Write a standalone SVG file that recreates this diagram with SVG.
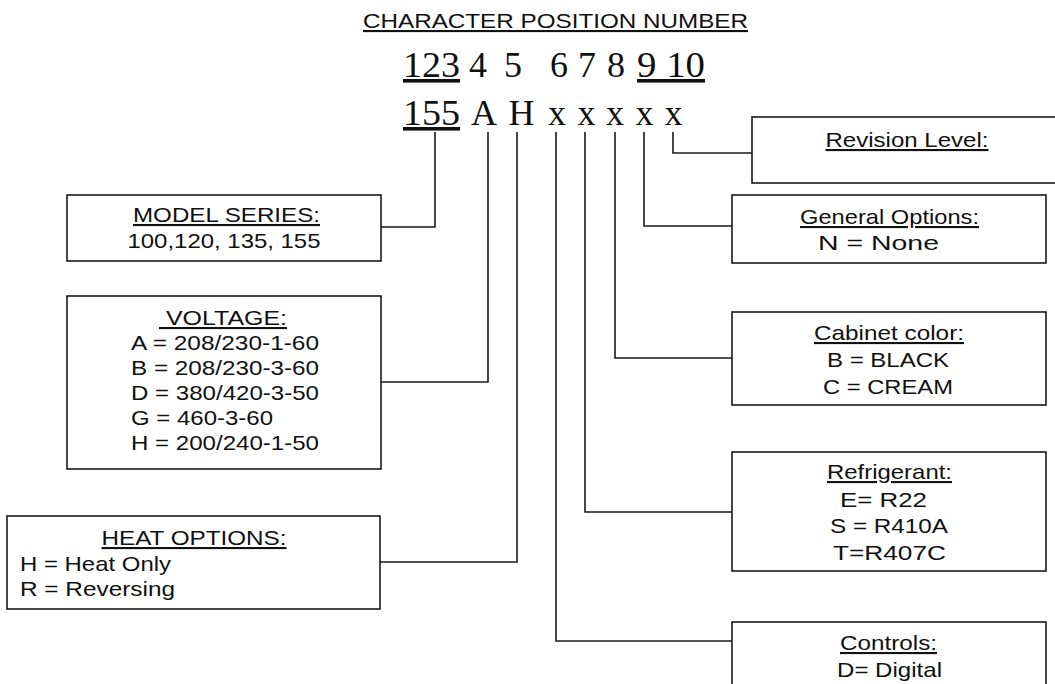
<svg xmlns="http://www.w3.org/2000/svg" width="1055" height="684" viewBox="0 0 1055 684">
<style>
.bg{fill:#fff}
.box{fill:#fff;stroke:#1a1a1a;stroke-width:1.6}
.con{fill:none;stroke:#1a1a1a;stroke-width:1.6}
.t{font-family:"Liberation Sans",Arial,sans-serif;font-size:21px;fill:#111}
.c{text-anchor:middle}
.u{text-decoration:underline}
.n{font-family:"Liberation Serif","Times New Roman",serif;font-size:36px;fill:#111}
</style>
<rect class="bg" x="0" y="0" width="1055" height="684"/>
<g id="header">
<text class="t u" x="363" y="28" textLength="385" lengthAdjust="spacingAndGlyphs">CHARACTER POSITION NUMBER</text>
<text class="n u" x="403" y="77" textLength="57" lengthAdjust="spacingAndGlyphs">123</text>
<text class="n c" x="478" y="77">4</text>
<text class="n c" x="513" y="77">5</text>
<text class="n c" x="559" y="77">6</text>
<text class="n c" x="587" y="77">7</text>
<text class="n c" x="616" y="77">8</text>
<text class="n u" x="637" y="77" textLength="68" lengthAdjust="spacingAndGlyphs">9 10</text>
<text class="n u" x="403" y="125" textLength="57" lengthAdjust="spacingAndGlyphs">155</text>
<text class="n c" x="484" y="125">A</text>
<text class="n c" x="521.5" y="125">H</text>
<text class="n c" x="557" y="125">x</text>
<text class="n c" x="586.5" y="125">x</text>
<text class="n c" x="615" y="125">x</text>
<text class="n c" x="644.5" y="125">x</text>
<text class="n c" x="673.5" y="125">x</text>
</g>
<g id="connectors">
<polyline class="con" points="435,132 435,227 381,227"/>
<polyline class="con" points="488,132 488,382 381,382"/>
<polyline class="con" points="517,132 517,562 380,562"/>
<polyline class="con" points="556,132 556,641 732,641"/>
<polyline class="con" points="585,132 585,512 732,512"/>
<polyline class="con" points="615,132 615,358 732,358"/>
<polyline class="con" points="644,132 644,226 732,226"/>
<polyline class="con" points="673,132 673,153 752,153"/>
</g>
<g id="model-series">
<rect class="box" x="67" y="195" width="314" height="66"/>
<text class="t c u" x="226.5" y="222" textLength="187" lengthAdjust="spacingAndGlyphs">MODEL SERIES:</text>
<text class="t c" x="224" y="248" textLength="193" lengthAdjust="spacingAndGlyphs">100,120, 135, 155</text>
</g>
<g id="voltage">
<rect class="box" x="67" y="296" width="314" height="173"/>
<text class="t u" x="159" y="325" xml:space="preserve" textLength="128" lengthAdjust="spacingAndGlyphs"> VOLTAGE:</text>
<text class="t" x="131" y="350" textLength="188" lengthAdjust="spacingAndGlyphs">A = 208/230-1-60</text>
<text class="t" x="131" y="375" textLength="188" lengthAdjust="spacingAndGlyphs">B = 208/230-3-60</text>
<text class="t" x="131" y="400" textLength="188" lengthAdjust="spacingAndGlyphs">D = 380/420-3-50</text>
<text class="t" x="131" y="425" textLength="142" lengthAdjust="spacingAndGlyphs">G = 460-3-60</text>
<text class="t" x="131" y="450" textLength="188" lengthAdjust="spacingAndGlyphs">H = 200/240-1-50</text>
</g>
<g id="heat-options">
<rect class="box" x="7" y="516" width="373" height="93"/>
<text class="t c u" x="194" y="545" textLength="185" lengthAdjust="spacingAndGlyphs">HEAT OPTIONS:</text>
<text class="t" x="20" y="571" textLength="151" lengthAdjust="spacingAndGlyphs">H = Heat Only</text>
<text class="t" x="20" y="596" textLength="155" lengthAdjust="spacingAndGlyphs">R = Reversing</text>
</g>
<g id="revision-level">
<rect class="box" x="752" y="117" width="320" height="66"/>
<text class="t c u" x="907" y="147" textLength="163" lengthAdjust="spacingAndGlyphs">Revision Level:</text>
</g>
<g id="general-options">
<rect class="box" x="732" y="195" width="314" height="68"/>
<text class="t c u" x="889.5" y="224" textLength="179" lengthAdjust="spacingAndGlyphs">General Options:</text>
<text class="t c" x="878.5" y="250" textLength="121" lengthAdjust="spacingAndGlyphs">N = None</text>
</g>
<g id="cabinet-color">
<rect class="box" x="732" y="312" width="314" height="93"/>
<text class="t c u" x="889" y="340" textLength="150" lengthAdjust="spacingAndGlyphs">Cabinet color:</text>
<text class="t c" x="888" y="367" textLength="122" lengthAdjust="spacingAndGlyphs">B = BLACK</text>
<text class="t c" x="888" y="394" textLength="130" lengthAdjust="spacingAndGlyphs">C = CREAM</text>
</g>
<g id="refrigerant">
<rect class="box" x="732" y="452" width="314" height="119"/>
<text class="t c u" x="889.5" y="479" textLength="125" lengthAdjust="spacingAndGlyphs">Refrigerant:</text>
<text class="t c" x="883.5" y="507" textLength="87" lengthAdjust="spacingAndGlyphs">E= R22</text>
<text class="t c" x="889" y="533" textLength="118" lengthAdjust="spacingAndGlyphs">S = R410A</text>
<text class="t c" x="889.5" y="560" textLength="113" lengthAdjust="spacingAndGlyphs">T=R407C</text>
</g>
<g id="controls">
<rect class="box" x="732" y="622" width="314" height="100"/>
<text class="t c u" x="888.5" y="650" textLength="97" lengthAdjust="spacingAndGlyphs">Controls:</text>
<text class="t c" x="889.5" y="677" textLength="105" lengthAdjust="spacingAndGlyphs">D= Digital</text>
</g>
</svg>
